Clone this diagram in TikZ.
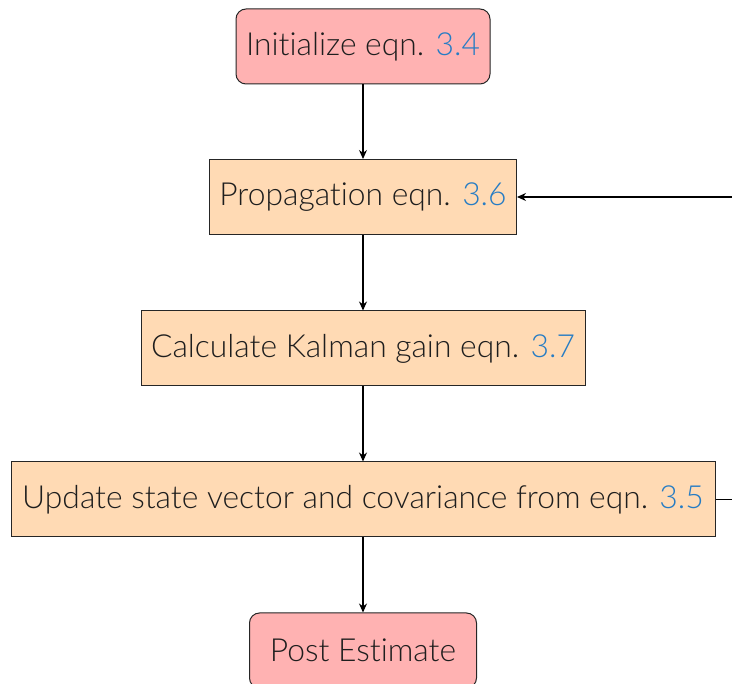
\documentclass[tikz,border=0pt]{standalone}
\usepackage{fontspec}
\setmainfont{Lato}[UprightFont=* Light, Ligatures=NoCommon]
\usetikzlibrary{arrows.meta}
\definecolor{pinkfill}{RGB}{255,178,178}
\definecolor{peachfill}{RGB}{255,218,180}
\definecolor{refblue}{RGB}{38,124,196}
\definecolor{txt}{RGB}{30,30,30}
\tikzset{
  base/.style={draw=black!85, line width=1pt, minimum height=75pt, inner sep=0pt, text=txt, font=\fontsize{31.8}{38}\selectfont},
  termbox/.style={base, fill=pinkfill, rounded corners=10pt},
  procbox/.style={base, fill=peachfill},
  flow/.style={line width=1.3pt, -{Stealth[length=9pt,width=8pt]}}
}
\newcommand{\eqref}[1]{\textcolor{refblue}{#1}}
\begin{document}
\begin{tikzpicture}[x=1pt,y=-1pt]
\clip (0,0) rectangle (732,684);
\useasboundingbox (0,0) rectangle (732,684);
\node[termbox, minimum width=254pt] (init) at (363,46.5) {Initialize eqn. \eqref{3.4}};
\node[procbox, minimum width=307pt] (prop) at (363,197) {Propagation eqn. \eqref{3.6}};
\node[procbox, minimum width=444pt] (gain) at (363,348.5) {Calculate Kalman gain eqn. \eqref{3.7}};
\node[procbox, minimum width=704pt] (upd) at (363,499.5) {Update state vector and covariance from eqn. \eqref{3.5}};
\node[termbox, minimum width=227pt] (post) at (363,650.5) {Post Estimate};
\coordinate (r1) at (770,499.5);
\coordinate (r2) at (770,197);
\draw[flow] (init) -- (prop);
\draw[flow] (prop) -- (gain);
\draw[flow] (gain) -- (upd);
\draw[flow] (upd) -- (post);
\draw[flow] (upd.east) -- (r1) -- (r2) -- (prop.east);
\end{tikzpicture}
\end{document}
